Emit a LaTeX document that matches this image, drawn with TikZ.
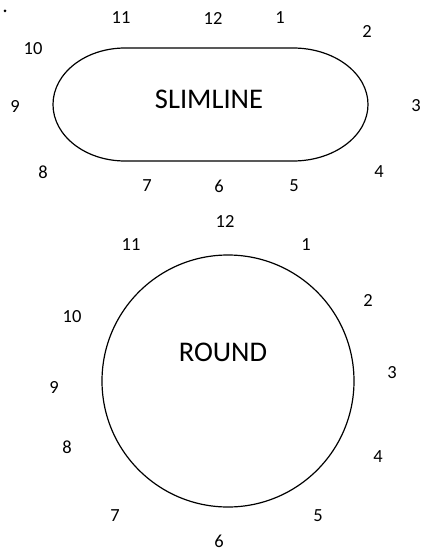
\documentclass[tikz,border=0pt]{standalone}
\usepackage{fontspec}
\setmainfont{Carlito}
\usetikzlibrary{positioning}
\tikzset{
  hr/.style    = { inner sep=0pt, font=\fontsize{18.5}{20}\selectfont },
  dialtxt/.style = { inner sep=0pt, font=\fontsize{28.5}{30}\selectfont },
  rim/.style   = { draw, line width=1.2pt },
}

\begin{document}
\begin{tikzpicture}[x=1pt,y=-1pt]
  \useasboundingbox (0,0) rectangle (432,551);
  \fill (5,11) circle (1.5);
  % slimline
  \draw[rim] (125,48) -- (293,48) arc[start angle=90,end angle=-90,x radius=75pt,y radius=56.5pt]
    -- (125,161) arc[start angle=-90,end angle=-270,x radius=72pt,y radius=56.5pt] -- cycle;
  \node[dialtxt] (slim) at (209,99) {SLIMLINE};
  \foreach \n/\x/\y in {12/213/18, 1/280/18, 2/367/31, 3/416/106, 4/379/172, 5/294/186,
      6/219/186, 7/147/186, 8/43/172, 9/15/106, 10/33/49, 11/121/18}
    \node[hr] (s\n) at (\x,\y) {\n};
  % round
  \node[rim, circle, minimum size=252pt, inner sep=0pt] (rnd) at (228,381) {};
  \node[dialtxt] (roundtxt) at (223,352) {ROUND};
  \foreach \n/\x/\y in {12/225/221, 1/306/245, 2/368/300, 3/392/373, 4/378/457, 5/318/516,
      6/219/541, 7/115/516, 8/67/447, 9/54/387, 10/72/317, 11/131/245}
    \node[hr] (r\n) at (\x,\y) {\n};
\end{tikzpicture}
\end{document}
